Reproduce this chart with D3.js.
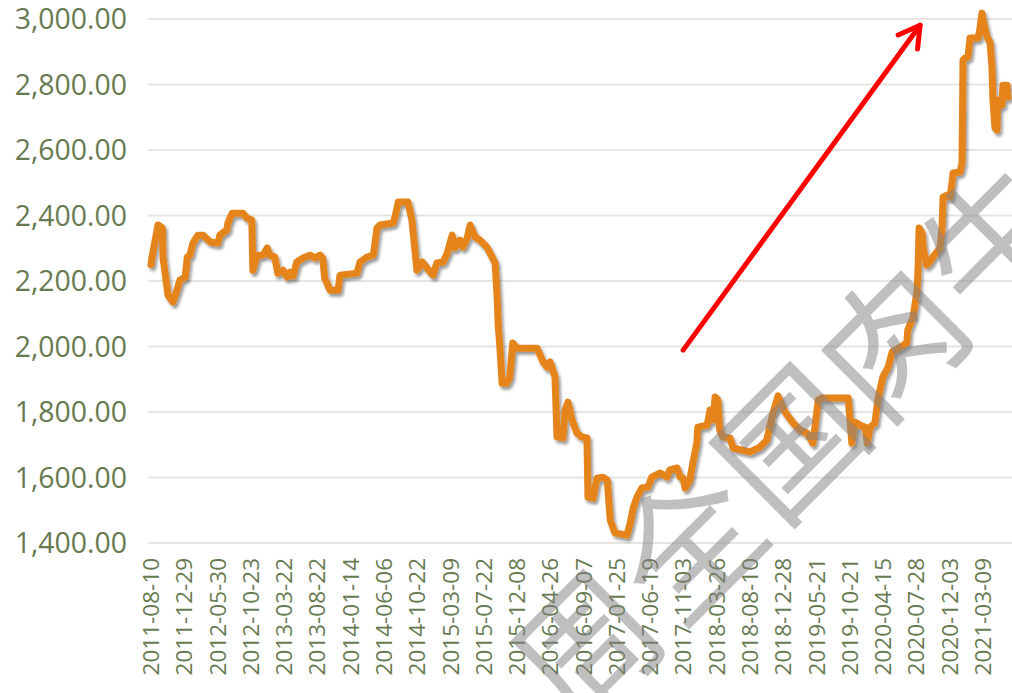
<!DOCTYPE html>
<html>
<head>
<meta charset="utf-8">
<script src="https://cdn.jsdelivr.net/npm/d3@7"></script>
<style>
  body { margin: 0; background: #fff; }
  svg { display: block; }
</style>
</head>
<body>
<script>
// y axis ticks
const yTicks = [1400, 1600, 1800, 2000, 2200, 2400, 2600, 2800, 3000];

// category labels shown on the x axis (one every ~100 records)
const dateLabels = ['2011-08-10', '2011-12-29', '2012-05-30', '2012-10-23', '2013-03-22', '2013-08-22',
    '2014-01-14', '2014-06-06', '2014-10-22', '2015-03-09', '2015-07-22', '2015-12-08', '2016-04-26',
    '2016-09-07', '2017-01-25', '2017-06-19', '2017-11-03', '2018-03-26', '2018-08-10', '2018-12-28',
    '2019-05-21', '2019-10-21', '2020-04-15', '2020-07-28', '2020-12-03', '2021-03-09'];

// position of each turning point, in label steps (0 = 2011-08-10)
const seriesPos = [0, 0.03, 0.21, 0.34, 0.36, 0.51, 0.66, 0.78, 0.87, 1.03, 1.09, 1.17, 1.26, 1.41, 1.56, 1.78,
    2.01, 2.07, 2.28, 2.31, 2.44, 2.76, 2.88, 3.03, 3.06, 3.19, 3.37, 3.49, 3.57, 3.72, 3.81, 3.97, 4.09, 4.18,
    4.27, 4.38, 4.57, 4.78, 4.93, 5.08, 5.16, 5.22, 5.38, 5.62, 5.68, 6.19, 6.28, 6.49, 6.68, 6.79, 6.88, 7.27,
    7.33, 7.43, 7.72, 7.84, 7.99, 8.15, 8.29, 8.47, 8.59, 8.78, 8.90, 9.05, 9.13, 9.28, 9.37, 9.50, 9.59, 9.74,
    9.88, 10.09, 10.25, 10.34, 10.40, 10.43, 10.49, 10.55, 10.69, 10.78, 10.87, 10.99, 11.60, 11.78, 11.90,
    11.99, 12.14, 12.20, 12.38, 12.44, 12.53, 12.65, 12.80, 12.95, 13.10, 13.13, 13.28, 13.40, 13.58, 13.71,
    13.80, 13.94, 14.30, 14.40, 14.49, 14.60, 14.75, 14.93, 15.05, 15.30, 15.50, 15.59, 15.81, 15.90, 15.99,
    16.05, 16.19, 16.28, 16.40, 16.43, 16.71, 16.80, 16.89, 16.95, 17.03, 17.09, 17.18, 17.40, 17.49, 18.00,
    18.30, 18.50, 18.69, 18.84, 19.05, 19.30, 19.50, 19.71, 19.89, 20.05, 20.17, 20.95, 21.06, 21.15, 21.36,
    21.46, 21.52, 21.61, 21.75, 21.84, 21.99, 22.15, 22.27, 22.51, 22.71, 22.74, 22.90, 23.02, 23.05, 23.08,
    23.17, 23.20, 23.31, 23.40, 23.49, 23.71, 23.77, 23.80, 23.92, 24.01, 24.07, 24.10, 24.31, 24.37, 24.40,
    24.46, 24.55, 24.61, 24.85, 24.90, 24.97, 25.00, 25.12, 25.21, 25.27, 25.30, 25.36, 25.42, 25.44, 25.57,
    25.60, 25.72, 25.75];

// price at each turning point
const seriesPrice = [2250, 2273, 2371, 2362, 2273, 2157, 2136, 2172, 2203, 2212, 2273, 2279, 2316, 2340, 2340, 2319,
    2316, 2340, 2356, 2377, 2407, 2407, 2392, 2386, 2233, 2279, 2279, 2301, 2279, 2273, 2224, 2233, 2212, 2227,
    2215, 2258, 2270, 2279, 2270, 2279, 2270, 2209, 2172, 2172, 2218, 2224, 2258, 2273, 2279, 2362, 2371, 2377,
    2395, 2441, 2441, 2386, 2233, 2258, 2240, 2218, 2255, 2258, 2285, 2340, 2301, 2325, 2304, 2331, 2371, 2334,
    2325, 2304, 2273, 2255, 2151, 2072, 1989, 1888, 1888, 1907, 2011, 1995, 1995, 1953, 1937,
    1953, 1907, 1724, 1721, 1806, 1830, 1776, 1736, 1724, 1721, 1540, 1537, 1598, 1601, 1592,
    1470, 1431, 1424, 1461, 1507, 1540, 1568, 1571, 1601, 1614, 1601, 1623, 1629, 1601, 1598,
    1568, 1592, 1644, 1705, 1754, 1760, 1806, 1776, 1846, 1837, 1745, 1724, 1721, 1690, 1678,
    1693, 1714, 1797, 1849, 1800, 1766, 1745, 1736, 1705, 1837, 1843, 1843, 1705, 1769, 1757,
    1754, 1705, 1754, 1766, 1837, 1907, 1937, 1983, 1998, 2011, 2050, 2090, 2172, 2243, 2362,
    2346, 2304, 2249, 2258, 2273, 2301, 2365, 2456, 2462, 2456, 2502, 2530, 2533, 2560, 2875,
    2881, 2884, 2942, 2942, 2966, 3018, 2997, 2945, 2930, 2853, 2753, 2667, 2661, 2753, 2737,
    2798, 2798, 2762];

// red trend arrow, in data units [position, price]
const arrowStart = [15.99, 1989];
const arrowEnd = [23.11, 2981];

const watermark = '周全国肉牛';

const width = 1012, height = 693;
const margin = {left: 148, right: 0, top: 19, bottom: 150};

const x = d3.scaleLinear().domain([0, 25]).range([151, 983]);
const y = d3.scaleLinear().domain([1400, 3000]).range([height - margin.bottom, margin.top]);

const svg = d3.select('body').append('svg')
    .attr('width', width)
    .attr('height', height);

const defs = svg.append('defs');
defs.append('filter')
    .attr('id', 'shadow')
    .attr('x', '-5%').attr('y', '-5%').attr('width', '110%').attr('height', '110%')
    .append('feDropShadow')
    .attr('dx', 2).attr('dy', 3)
    .attr('stdDeviation', 1.8)
    .attr('flood-color', '#000')
    .attr('flood-opacity', 0.4);

const textColor = '#687a52';
const fontFamily = '"Open Sans", sans-serif';

// gridlines
svg.append('g')
    .selectAll('line')
    .data(yTicks)
    .join('line')
    .attr('x1', margin.left)
    .attr('x2', width)
    .attr('y1', d => y(d))
    .attr('y2', d => y(d))
    .attr('stroke', '#e6e6df')
    .attr('stroke-width', 2);

// y labels
svg.append('g')
    .selectAll('text')
    .data(yTicks)
    .join('text')
    .attr('x', 127)
    .attr('y', d => y(d) + 10)
    .attr('text-anchor', 'end')
    .style('font-family', fontFamily)
    .style('font-size', '28.4px')
    .style('fill', textColor)
    .text(d => d3.format(',.2f')(d));

// x labels, rotated
svg.append('g')
    .selectAll('text')
    .data(dateLabels)
    .join('text')
    .attr('transform', (d, i) => `translate(${x(i) + 8},${y(1400) + 15}) rotate(-90)`)
    .attr('text-anchor', 'end')
    .style('font-family', fontFamily)
    .style('font-size', '22.5px')
    .style('fill', textColor)
    .text(d => d);

// price line
const points = seriesPos.map((p, i) => [p, seriesPrice[i]]);
const line = d3.line()
    .x(d => x(d[0]))
    .y(d => y(d[1]));

svg.append('path')
    .datum(points)
    .attr('d', line)
    .attr('fill', 'none')
    .attr('stroke', '#e6841c')
    .attr('stroke-width', 7)
    .attr('stroke-linejoin', 'round')
    .attr('stroke-linecap', 'round')
    .attr('filter', 'url(#shadow)');

// arrow
const ax0 = x(arrowStart[0]), ay0 = y(arrowStart[1]);
const ax1 = x(arrowEnd[0]), ay1 = y(arrowEnd[1]);
const ang = Math.atan2(ay1 - ay0, ax1 - ax0);
const headLen = 24, headAng = Math.PI / 6;
const arrow = svg.append('g')
    .attr('stroke', '#ff0000')
    .attr('stroke-width', 5)
    .attr('stroke-linecap', 'round')
    .attr('fill', 'none');
arrow.append('line')
    .attr('x1', ax0).attr('y1', ay0)
    .attr('x2', ax1).attr('y2', ay1);
arrow.append('path')
    .attr('stroke-linejoin', 'round')
    .attr('d', `M${ax1 - headLen * Math.cos(ang - headAng)},${ay1 - headLen * Math.sin(ang - headAng)}` +
        `L${ax1},${ay1}` +
        `L${ax1 - headLen * Math.cos(ang + headAng)},${ay1 - headLen * Math.sin(ang + headAng)}`);

// watermark
svg.append('text')
    .attr('transform', 'translate(786,436) rotate(-45)')
    .attr('text-anchor', 'middle')
    .attr('dominant-baseline', 'central')
    .style('font-family', '"Noto Sans CJK SC", sans-serif')
    .style('font-size', '140px')
    .style('letter-spacing', '4px')
    .style('fill', '#808080')
    .style('fill-opacity', 0.5)
    .text(watermark);
</script>
</body>
</html>
